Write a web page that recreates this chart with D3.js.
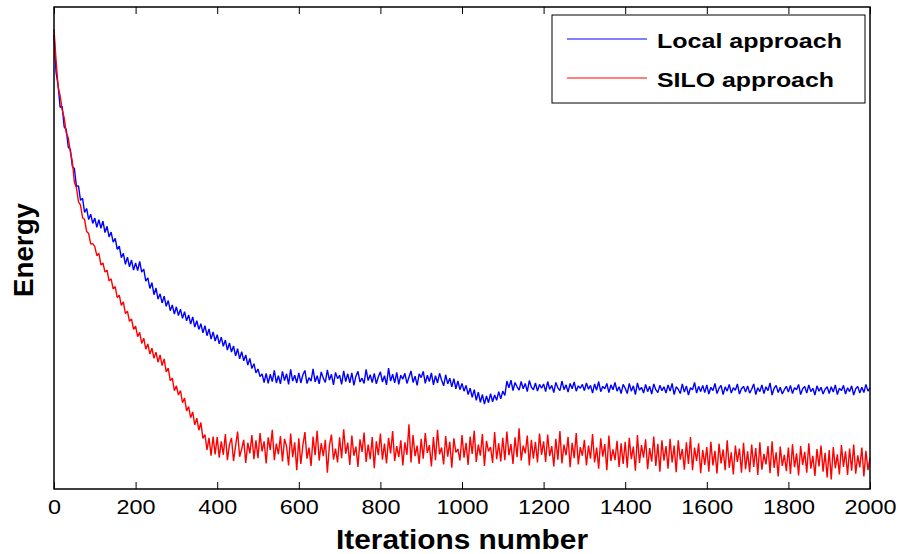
<!DOCTYPE html>
<html>
<head>
<meta charset="utf-8">
<script src="https://cdn.jsdelivr.net/npm/d3@7"></script>
<style>
  body { margin: 0; background: #fff; }
  text { font-family: "Liberation Sans", Arial, sans-serif; }
</style>
</head>
<body>
<div id="chart"></div>
<script>
// one sample every 5 iterations, energy in arbitrary units (no y ticks on the original)
const sampleStep = 5;
const xTickValues = [0, 200, 400, 600, 800, 1000, 1200, 1400, 1600, 1800, 2000];
const seriesNames = ["Local approach", "SILO approach"];
const seriesColors = ["#0000ff", "#ff0000"];

const localEnergy = [
  94.2, 86.5, 83.8, 79.2, 79.4, 75.1, 74.6, 70.9, 70.5, 66.9, 66.5, 62.8, 62.9, 59.9, 60.3, 57.4, 58.2, 55.9, 57.0, 55.1,
  56.2, 54.3, 55.9, 54.1, 55.6, 53.2, 54.5, 52.3, 53.3, 51.2, 52.0, 49.7, 50.4, 48.0, 48.9, 46.6, 48.1, 46.1, 47.5, 45.4,
  46.9, 45.3, 47.2, 45.0, 45.6, 43.1, 43.8, 41.6, 42.8, 40.3, 41.7, 39.4, 40.5, 38.6, 40.0, 37.9, 39.1, 37.0, 38.2, 36.3,
  37.8, 36.0, 37.3, 35.4, 36.8, 34.9, 36.1, 34.2, 35.7, 33.6, 34.9, 33.1, 34.3, 32.4, 33.9, 31.8, 33.2, 31.1, 32.6, 30.7,
  32.0, 30.1, 31.5, 29.6, 30.9, 28.8, 30.3, 28.4, 29.7, 27.6, 29.1, 27.0, 28.5, 26.6, 27.8, 25.7, 27.1, 25.0, 26.0, 24.1,
  24.9, 23.3, 23.9, 22.1, 24.0, 21.9, 23.8, 22.3, 24.6, 22.0, 23.5, 21.8, 24.4, 22.5, 23.9, 21.7, 24.8, 22.4, 23.6, 22.0,
  24.1, 22.0, 23.7, 24.6, 21.9, 23.1, 22.4, 24.9, 22.2, 23.5, 21.8, 24.3, 23.0, 22.1, 24.7, 22.6, 23.8, 21.6, 24.2, 22.9,
  23.6, 21.7, 24.5, 22.3, 23.9, 22.0, 24.1, 21.5, 23.4, 24.4, 22.2, 23.0, 21.9, 24.8, 22.5, 23.7, 22.1, 24.0, 21.8, 23.3,
  24.3, 22.2, 23.5, 21.6, 25.1, 22.4, 23.8, 22.0, 24.2, 21.7, 23.6, 22.8, 24.0, 21.9, 23.2, 24.5, 22.1, 23.4, 21.5, 23.9,
  23.1, 24.4, 21.9, 23.6, 22.3, 24.1, 21.6, 23.5, 22.0, 24.0, 22.6, 21.4, 23.7, 21.8, 23.0, 21.2, 22.9, 20.8, 22.4, 20.6,
  21.9, 20.3, 21.5, 19.6, 20.9, 19.0, 20.6, 18.4, 20.1, 18.0, 19.6, 17.6, 19.3, 17.9, 19.8, 18.1, 19.5, 18.4, 20.2, 18.7,
  20.3, 19.4, 22.4, 21.0, 22.6, 20.4, 22.1, 21.2, 20.5, 22.3, 20.8, 21.9, 20.2, 22.5, 21.1, 20.6, 22.0, 20.3, 21.7, 20.9,
  21.8, 20.2, 22.3, 20.7, 21.5, 20.0, 22.1, 21.0, 20.4, 22.4, 20.6, 21.6, 20.1, 21.9, 20.8, 22.2, 20.3, 21.4, 20.9, 21.7,
  20.4, 22.0, 20.7, 21.5, 19.9, 21.8, 20.5, 22.3, 20.2, 21.3, 20.8, 21.9, 20.0, 21.6, 20.6, 22.1, 20.3, 21.2, 19.8, 21.7,
  20.9, 19.8, 21.9, 20.3, 21.4, 19.6, 22.0, 20.5, 21.1, 19.9, 21.7, 20.2, 21.3, 19.7, 21.8, 20.6, 20.0, 21.5, 20.4, 21.2,
  19.9, 21.6, 20.3, 21.9, 19.6, 21.2, 20.7, 19.8, 21.8, 20.1, 21.4, 19.5, 21.0, 20.6, 22.1, 19.9, 21.3, 20.2, 21.5, 20.0,
  21.6, 19.7, 21.1, 20.4, 21.9, 19.8, 20.9, 21.5, 19.6, 21.2, 20.3, 21.7, 19.9, 21.0, 20.5, 21.8, 19.7, 20.8, 21.3, 20.1,
  21.4, 19.9, 20.7, 21.8, 19.6, 21.0, 20.2, 21.6, 19.8, 21.2, 20.4, 22.0, 19.5, 20.9, 21.5, 20.0, 21.1, 19.7, 20.6, 21.3,
  20.1, 21.5, 19.8, 21.0, 20.6, 21.7, 19.6, 20.8, 21.3, 19.9, 21.6, 20.2, 20.9, 19.5, 21.4, 20.3, 21.1, 19.7, 20.7, 21.2,
  19.8, 21.2, 20.1, 21.6, 19.6, 20.9, 20.4, 21.5, 19.7, 21.0, 20.2, 21.4, 19.5, 20.8, 21.3, 19.9, 21.1, 20.0, 21.7, 20.3,
  21.0
];

const siloEnergy = [
  95.4, 89.0, 83.5, 81.6, 78.7, 77.0, 73.9, 72.8, 70.0, 67.9, 63.6, 62.5, 59.6, 58.9, 56.3, 55.9, 53.4, 53.0, 50.8, 50.9,
  50.3, 48.4, 48.9, 46.5, 46.9, 45.0, 45.4, 43.2, 43.6, 41.5, 42.0, 39.7, 40.2, 38.1, 38.8, 36.4, 36.9, 34.8, 35.3, 33.1,
  33.8, 31.6, 32.5, 30.2, 31.3, 29.0, 30.1, 28.0, 29.2, 27.1, 28.4, 26.3, 27.8, 25.6, 27.0, 24.3, 25.1, 22.5, 23.0, 20.4,
  21.4, 19.5, 20.4, 17.9, 18.9, 16.2, 17.1, 14.8, 16.0, 13.3, 14.7, 12.2, 13.8, 10.5, 11.3, 8.1, 10.6, 6.9, 10.9, 7.2,
  10.8, 6.5, 9.9, 7.1, 11.4, 6.0, 9.2, 10.6, 5.8, 8.9, 11.9, 6.7, 8.3, 10.2, 5.4, 9.6, 7.4, 11.2, 6.2, 10.1,
  6.4, 11.6, 7.8, 9.9, 5.3, 10.7, 8.1, 12.3, 6.0, 9.4, 7.2, 11.0, 5.7, 10.4, 8.8, 4.9, 11.5, 6.6, 9.7, 3.9,
  10.5, 5.2, 9.1, 11.8, 6.3, 8.6, 4.8, 10.9, 7.0, 12.1, 5.9, 9.5, 6.8, 10.2, 3.4, 9.0, 11.3, 6.1, 8.4, 5.5,
  10.7, 6.4, 12.4, 7.3, 9.6, 5.0, 11.1, 6.9, 8.8, 4.6, 10.3, 7.7, 11.7, 5.6, 9.2, 6.2, 10.8, 4.3, 9.9, 7.0,
  11.5, 6.1, 9.4, 5.3, 10.6, 7.4, 12.0, 5.8, 8.9, 6.6, 10.1, 4.9, 9.7, 7.1, 13.4, 5.5, 11.2, 6.8, 9.0, 5.2,
  10.4, 6.3, 11.6, 7.5, 9.1, 4.7, 10.8, 6.0, 12.3, 7.2, 8.6, 5.1, 11.0, 6.7, 9.8, 4.4, 10.5, 7.6, 8.3, 5.9,
  11.2, 6.5, 9.6, 5.0, 10.9, 7.3, 12.1, 5.6, 9.2, 6.9, 11.4, 4.8, 10.0, 7.8, 8.7, 5.4, 11.8, 6.2, 9.5, 5.7,
  10.6, 6.0, 11.9, 7.0, 9.3, 5.2, 10.7, 6.6, 12.6, 5.9, 9.0, 7.4, 11.1, 4.9, 10.2, 6.3, 9.8, 5.5, 11.5, 7.1,
  9.9, 5.6, 11.3, 6.8, 8.9, 4.7, 10.4, 6.1, 12.0, 5.3, 9.2, 7.0, 10.8, 4.5, 9.6, 6.4, 11.6, 5.1, 8.7, 6.9,
  10.2, 4.9, 9.0, 6.3, 11.4, 5.5, 8.6, 4.2, 10.5, 6.7, 9.3, 3.9, 11.1, 5.8, 8.2, 6.0, 10.0, 4.6, 9.5, 5.2,
  9.8, 4.4, 10.6, 6.2, 8.8, 3.8, 11.2, 5.4, 9.1, 6.5, 10.3, 4.1, 8.5, 5.7, 10.9, 4.8, 9.4, 3.6, 10.1, 5.9,
  8.9, 4.2, 10.4, 5.5, 9.0, 3.5, 10.1, 6.1, 8.3, 4.0, 9.7, 5.2, 10.8, 3.9, 8.6, 5.8, 9.5, 3.3, 8.1, 5.0,
  8.7, 3.6, 9.8, 4.9, 7.9, 3.2, 9.4, 5.3, 8.2, 3.9, 10.1, 4.4, 7.6, 3.0, 9.0, 5.6, 8.4, 3.4, 9.6, 4.1,
  7.8, 3.5, 9.2, 4.6, 8.5, 2.9, 9.7, 4.0, 7.3, 5.1, 8.9, 3.3, 9.9, 4.4, 7.6, 2.6, 8.8, 4.8, 7.1, 3.7,
  8.6, 3.1, 9.3, 4.5, 7.4, 2.8, 8.9, 5.0, 7.7, 3.4, 9.5, 4.2, 6.9, 2.7, 8.3, 4.7, 9.0, 3.6, 7.5, 2.4,
  8.1, 2.0, 8.7, 4.3, 7.2, 3.0, 9.1, 4.6, 7.8, 2.9, 8.4, 3.8, 9.2, 3.2, 7.0, 4.5, 8.6, 2.6, 7.9, 3.9,
  6.5
];

const W = 900, H = 554;
const plot = { left: 54, right: 870, top: 7, bottom: 489 };

const svg = d3.select("#chart")
    .append("svg")
    .attr("width", W)
    .attr("height", H);

const x = d3.scaleLinear().domain([0, 2000]).range([plot.left, plot.right]);
const y = d3.scaleLinear().domain([0, 100]).range([plot.bottom, plot.top]);

// lines
const line = d3.line()
    .x((d, i) => x(i * sampleStep))
    .y(d => y(d));

[localEnergy, siloEnergy].forEach((values, k) => {
    svg.append("path")
        .datum(values)
        .attr("fill", "none")
        .attr("stroke", seriesColors[k])
        .attr("stroke-width", 1.4)
        .attr("stroke-linejoin", "bevel")
        .attr("d", line);
});

// axes box with inward ticks, MATLAB style
svg.append("rect")
    .attr("x", plot.left)
    .attr("y", plot.top)
    .attr("width", plot.right - plot.left)
    .attr("height", plot.bottom - plot.top)
    .attr("fill", "none")
    .attr("stroke", "#000")
    .attr("stroke-width", 1.5);

const xAxis = d3.axisBottom(x)
    .tickValues(xTickValues)
    .tickSizeInner(-7)
    .tickSizeOuter(0)
    .tickPadding(11)
    .tickFormat(d3.format("d"));

const gx = svg.append("g")
    .attr("transform", `translate(0,${plot.bottom})`)
    .call(xAxis);
gx.select(".domain").remove();
gx.selectAll("line").attr("stroke", "#000");
gx.selectAll("text")
    .attr("fill", "#000")
    .style("font-size", "20px")
    .attr("textLength", d => String(d).length * 13)
    .attr("lengthAdjust", "spacingAndGlyphs");

const gxTop = svg.append("g")
    .attr("transform", `translate(0,${plot.top})`)
    .call(d3.axisTop(x).tickValues(xTickValues).tickSizeInner(-7).tickSizeOuter(0).tickFormat(""));
gxTop.select(".domain").remove();
gxTop.selectAll("line").attr("stroke", "#000");

// axis labels
svg.append("text")
    .attr("x", (plot.left + plot.right) / 2)
    .attr("y", 549)
    .attr("text-anchor", "middle")
    .style("font-size", "28px")
    .style("font-weight", "bold")
    .attr("textLength", 252)
    .attr("lengthAdjust", "spacingAndGlyphs")
    .text("Iterations number");

svg.append("text")
    .attr("transform", `translate(33,250) rotate(-90)`)
    .attr("text-anchor", "middle")
    .style("font-size", "28px")
    .style("font-weight", "bold")
    .attr("textLength", 94)
    .attr("lengthAdjust", "spacingAndGlyphs")
    .text("Energy");

// legend
const legend = svg.append("g").attr("transform", "translate(552,15)");
legend.append("rect")
    .attr("width", 313)
    .attr("height", 88)
    .attr("fill", "#fff")
    .attr("stroke", "#000")
    .attr("stroke-width", 1);

const legendItems = legend.selectAll(".item")
    .data(seriesNames)
    .enter()
    .append("g")
    .attr("class", "item")
    .attr("transform", (d, i) => `translate(0,${24 + i * 39})`);

legendItems.append("line")
    .attr("x1", 15)
    .attr("x2", 95)
    .attr("stroke", (d, i) => seriesColors[i])
    .attr("stroke-width", 1);

legendItems.append("text")
    .attr("x", 105)
    .attr("y", 9)
    .style("font-size", "21px")
    .style("font-weight", "bold")
    .attr("textLength", (d, i) => i === 0 ? 185 : 177)
    .attr("lengthAdjust", "spacingAndGlyphs")
    .text(d => d);
</script>
</body>
</html>
